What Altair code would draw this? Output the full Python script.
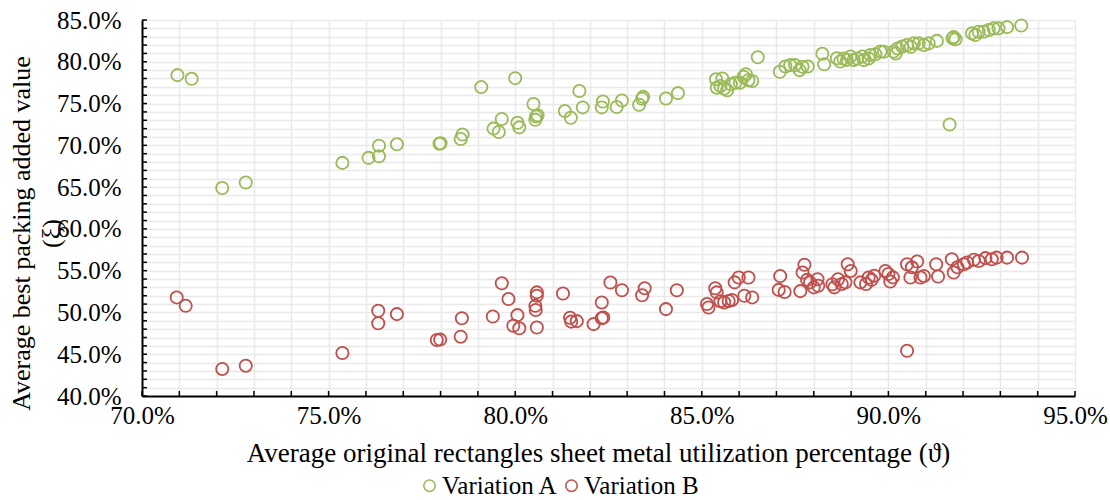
import altair as alt
import pandas as pd

# Variation A: utilization (%) vs best packing added value (%)
a_x = [70.95, 71.33, 72.15, 72.78, 75.37, 76.07, 76.35, 76.35, 76.83, 77.97,
       78.00, 78.54, 78.59, 79.09, 79.42, 79.56, 79.64, 80.00, 80.06, 80.11,
       80.49, 80.54, 80.56, 80.60, 81.33, 81.49, 81.72, 81.81, 82.32, 82.35,
       82.72, 82.86, 83.32, 83.40, 83.43, 84.04, 84.36, 85.38, 85.40, 85.50,
       85.55, 85.60, 85.68, 85.78, 85.90, 86.02, 86.12, 86.18, 86.25, 86.35,
       86.50, 87.09, 87.24, 87.37, 87.50, 87.62, 87.70, 87.84, 88.23, 88.28,
       88.62, 88.71, 88.80, 88.89, 88.98, 89.07, 89.16, 89.30, 89.34, 89.47,
       89.52, 89.65, 89.79, 89.88, 90.14, 90.20, 90.25, 90.37, 90.50, 90.60,
       90.68, 90.81, 90.95, 91.08, 91.30, 91.64, 91.72, 91.75, 91.80, 92.24,
       92.33, 92.42, 92.55, 92.69, 92.82, 92.95, 93.18, 93.56]
a_y = [78.40, 77.96, 64.90, 65.55, 67.90, 68.50, 68.70, 69.96, 70.12, 70.20,
       70.25, 70.76, 71.30, 76.97, 72.00, 71.60, 73.15, 78.04, 72.70, 72.15,
       74.94, 73.07, 73.46, 73.60, 74.10, 73.30, 76.50, 74.54, 74.54, 75.25,
       74.58, 75.37, 74.86, 75.57, 75.80, 75.60, 76.25, 77.90, 76.90, 77.10,
       78.00, 76.80, 76.60, 77.30, 77.50, 77.50, 78.20, 78.50, 77.80, 77.70,
       80.55, 78.80, 79.43, 79.60, 79.60, 79.00, 79.40, 79.43, 80.95, 79.70,
       80.43, 80.03, 80.40, 80.23, 80.62, 80.20, 80.40, 80.62, 80.20, 80.40,
       80.82, 80.90, 81.22, 81.20, 81.22, 81.00, 81.60, 81.82, 82.00, 81.80,
       82.20, 82.20, 82.00, 82.20, 82.50, 72.50, 82.80, 82.95, 82.70, 83.40,
       83.20, 83.60, 83.60, 83.80, 84.00, 84.00, 84.15, 84.35]

# Variation B
b_x = [70.93, 71.17, 72.15, 72.78, 75.37, 76.33, 76.33, 76.83, 77.90, 77.99,
       78.57, 78.54, 79.40, 79.64, 79.82, 80.06, 79.95, 80.11, 80.58, 80.58,
       80.54, 80.55, 80.58, 81.28, 81.47, 81.50, 81.65, 82.10, 82.32, 82.32,
       82.36, 82.55, 82.86, 83.40, 83.47, 84.04, 84.33, 85.14, 85.18, 85.36,
       85.40, 85.50, 85.60, 85.72, 85.81, 85.88, 85.99, 86.14, 86.25, 86.35,
       87.06, 87.10, 87.22, 87.64, 87.70, 87.75, 87.82, 87.90, 88.00, 88.10,
       88.12, 88.50, 88.55, 88.65, 88.75, 88.85, 88.91, 88.99, 89.25, 89.40,
       89.47, 89.55, 89.62, 89.92, 90.00, 90.05, 90.12, 90.50, 90.50, 90.63,
       90.59, 90.77, 90.86, 90.95, 91.28, 91.33, 91.70, 91.75, 91.85, 92.02,
       92.11, 92.29, 92.42, 92.60, 92.77, 92.90, 93.18, 93.58]
b_y = [51.80, 50.79, 43.24, 43.63, 45.14, 50.20, 48.70, 49.80, 46.70, 46.75,
       49.30, 47.10, 49.52, 53.50, 51.60, 49.68, 48.40, 48.10, 52.40, 52.00,
       50.79, 50.30, 48.20, 52.27, 49.36, 48.90, 48.96, 48.60, 51.20, 49.30,
       49.40, 53.58, 52.66, 52.06, 52.90, 50.40, 52.66, 51.00, 50.60, 52.90,
       52.40, 51.35, 51.20, 51.38, 51.50, 53.60, 54.18, 52.00, 54.18, 51.80,
       52.70, 54.35, 52.45, 52.55, 54.77, 55.70, 53.90, 53.60, 53.00, 53.97,
       53.20, 53.38, 53.00, 53.97, 53.40, 53.60, 55.76, 54.97, 53.60, 53.40,
       54.18, 53.90, 54.40, 54.97, 54.60, 53.70, 54.20, 55.76, 45.42, 55.40,
       54.18, 56.10, 54.18, 54.37, 55.76, 54.30, 56.36, 54.77, 55.40, 55.76,
       55.97, 56.30, 56.16, 56.50, 56.36, 56.56, 56.56, 56.56]

series_names = ["Variation A", "Variation B"]
series_colors = ["#9BBB59", "#C0504D"]

x_ticks = [round(0.70 + 0.01 * i, 2) for i in range(26)]
y_ticks = [round(0.40 + 0.01 * i, 2) for i in range(46)]

W, H = 933, 376
FONT = "Liberation Serif"

points = pd.concat([
    pd.DataFrame({"x": [v / 100 for v in a_x], "y": [v / 100 for v in a_y],
                  "series": series_names[0]}),
    pd.DataFrame({"x": [v / 100 for v in b_x], "y": [v / 100 for v in b_y],
                  "series": series_names[1]}),
])

x_scale = alt.Scale(domain=[0.70, 0.95], nice=False, zero=False)
y_scale = alt.Scale(domain=[0.40, 0.85], nice=False, zero=False)

label_every5 = "(round(datum.value * 100) % 5 == 0) ? format(datum.value, '.1%') : ''"

x_axis = alt.Axis(
    values=x_ticks, labelExpr=label_every5, labelFlush=False,
    title="Average original rectangles sheet metal utilization percentage (ϑ)",
    titleX=456, titleY=57, titleBaseline="middle", titleAnchor="middle",
    titleFontSize=27, labelPadding=7,
)
y_axis = alt.Axis(
    values=y_ticks, labelExpr=label_every5, labelFlush=False,
    title=["Average best packing added value", "(ξ)"],
    titleX=-121, titleY=213, titleBaseline="middle", titleLineHeight=30,
    titleAngle=270, labelPadding=21,
)

scatter = alt.Chart(points).mark_point(
    shape="circle", filled=False, size=150, strokeWidth=1.8, opacity=1
).encode(
    x=alt.X("x:Q", scale=x_scale, axis=x_axis),
    y=alt.Y("y:Q", scale=y_scale, axis=y_axis),
    color=alt.Color("series:N", scale=alt.Scale(domain=series_names, range=series_colors),
                    legend=alt.Legend(
                        title=None, orient="none", direction="horizontal",
                        legendX=275, legendY=453,
                        symbolType="circle", symbolSize=130, symbolStrokeWidth=1.6,
                        symbolFillColor="transparent", labelFontSize=25,
                        labelFont=FONT, labelColor="#000000", labelOffset=0,
                        columnPadding=1,
                    )),
)

# inside tick marks along the bottom axis
x_tick_marks = alt.Chart(pd.DataFrame({"t": x_ticks})).mark_rule(
    color="#000000", strokeWidth=1.5
).encode(
    x=alt.X("t:Q", scale=x_scale, axis=x_axis),
    y=alt.value(H), y2=alt.value(H - 5),
)

# inside tick marks along the left axis
y_tick_marks = alt.Chart(pd.DataFrame({"t": y_ticks})).mark_rule(
    color="#000000", strokeWidth=1.5
).encode(
    y=alt.Y("t:Q", scale=y_scale, axis=y_axis),
    x=alt.value(0), x2=alt.value(5),
)

chart = alt.layer(x_tick_marks, y_tick_marks, scatter).properties(
    width=W, height=H,
    background="white",
    autosize=alt.AutoSizeParams(type="none"),
    padding={"left": 142, "top": 20, "right": 35, "bottom": 104},
).configure_view(
    stroke=None
).configure_axis(
    grid=True, gridColor="#E9E9E9", gridWidth=1.5,
    domain=True, domainColor="#000000", domainWidth=2,
    ticks=False, tickSize=0,
    labelFont=FONT, labelFontSize=25, labelColor="#000000",
    titleFont=FONT, titleFontSize=26, titleFontWeight="normal", titleColor="#000000",
    labelOverlap=False,
)

chart.save("out.html", embed_options={"renderer": "svg", "actions": False})
